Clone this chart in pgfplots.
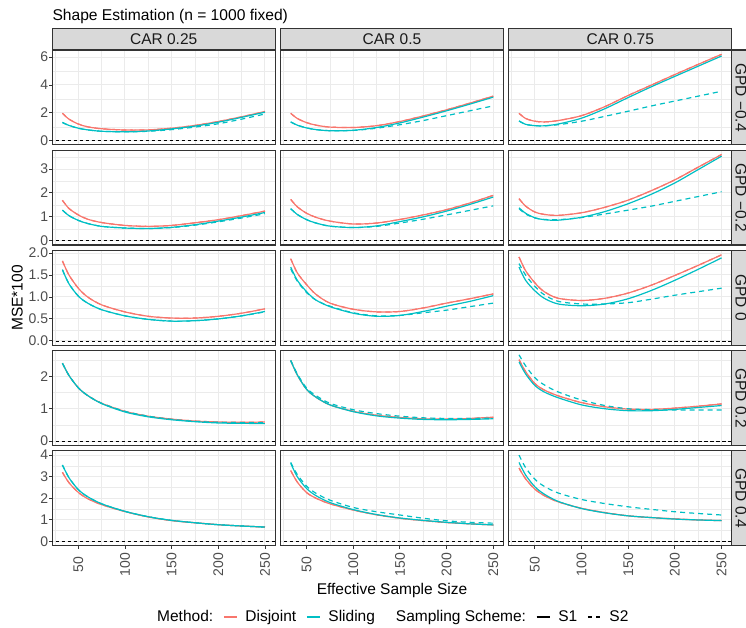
\documentclass[border=0pt]{standalone}
\usepackage{pgfplots}
\pgfplotsset{compat=1.18}
\usepackage{pgfplotstable}
\usepackage{fontspec}
\setmainfont{Liberation Sans}
\definecolor{cD}{HTML}{F8766D}
\definecolor{cS}{HTML}{00BFC4}
\definecolor{gA}{HTML}{333333}
\definecolor{gB}{HTML}{4D4D4D}
\definecolor{gC}{HTML}{D9D9D9}
\definecolor{gD}{HTML}{EBEBEB}
\definecolor{gE}{HTML}{1A1A1A}
\newcommand\fs[1]{\fontsize{#1}{#1}\selectfont}

% columns: x, Disjoint (S1 = S2), Sliding S1, Sliding S2
\pgfplotstableread{
x d s1 s2
33 1.97 1.31 1.31
40 1.55 1.10 1.10
50 1.20 0.90 0.90
60 1.00 0.78 0.78
75 0.86 0.68 0.68
100 0.77 0.64 0.64
125 0.78 0.70 0.68
150 0.90 0.85 0.80
175 1.10 1.05 0.98
200 1.38 1.33 1.22
225 1.72 1.68 1.55
250 2.10 2.05 1.92
}\tAa
\pgfplotstableread{
x d s1 s2
33 1.97 1.35 1.35
40 1.60 1.12 1.12
50 1.30 0.92 0.92
60 1.12 0.80 0.80
75 0.98 0.72 0.72
100 0.95 0.75 0.74
125 1.08 0.95 0.90
150 1.38 1.28 1.15
175 1.78 1.70 1.45
200 2.22 2.15 1.80
225 2.70 2.63 2.15
250 3.20 3.13 2.50
}\tAb
\pgfplotstableread{
x d s1 s2
33 1.97 1.42 1.42
40 1.60 1.18 1.18
50 1.40 1.08 1.08
60 1.35 1.07 1.07
75 1.45 1.20 1.15
100 1.80 1.62 1.40
125 2.45 2.30 1.75
150 3.25 3.10 2.12
175 4.00 3.88 2.50
200 4.75 4.62 2.85
225 5.48 5.35 3.20
250 6.20 6.08 3.55
}\tAc
\pgfplotstableread{
x d s1 s2
33 1.69 1.28 1.28
40 1.35 1.05 1.05
50 1.08 0.85 0.85
60 0.90 0.72 0.72
75 0.76 0.60 0.60
100 0.64 0.53 0.53
125 0.60 0.51 0.51
150 0.64 0.56 0.55
175 0.75 0.67 0.65
200 0.88 0.82 0.79
225 1.05 0.99 0.95
250 1.24 1.18 1.13
}\tBa
\pgfplotstableread{
x d s1 s2
33 1.73 1.34 1.34
40 1.42 1.10 1.10
50 1.15 0.88 0.88
60 0.98 0.74 0.74
75 0.82 0.61 0.61
100 0.70 0.55 0.55
125 0.74 0.62 0.60
150 0.89 0.80 0.74
175 1.08 1.00 0.90
200 1.30 1.24 1.08
225 1.58 1.52 1.27
250 1.90 1.83 1.46
}\tBb
\pgfplotstableread{
x d s1 s2
33 1.76 1.38 1.34
40 1.45 1.15 1.12
50 1.20 0.96 0.95
60 1.10 0.88 0.89
75 1.06 0.86 0.88
100 1.17 0.98 0.97
125 1.40 1.22 1.12
150 1.70 1.55 1.28
175 2.10 1.95 1.45
200 2.55 2.42 1.65
225 3.08 2.98 1.85
250 3.61 3.54 2.05
}\tBc
\pgfplotstableread{
x d s1 s2
33 1.82 1.62 1.62
40 1.50 1.30 1.30
50 1.20 1.02 1.02
60 1.00 0.86 0.86
75 0.82 0.71 0.71
100 0.66 0.57 0.57
125 0.56 0.49 0.49
150 0.52 0.45 0.45
175 0.52 0.46 0.46
200 0.56 0.50 0.50
225 0.63 0.57 0.57
250 0.73 0.67 0.66
}\tCa
\pgfplotstableread{
x d s1 s2
33 1.87 1.68 1.64
40 1.55 1.38 1.36
50 1.28 1.12 1.10
60 1.06 0.93 0.93
75 0.86 0.78 0.79
100 0.72 0.63 0.64
125 0.66 0.56 0.57
150 0.67 0.58 0.58
175 0.75 0.67 0.64
200 0.86 0.79 0.70
225 0.96 0.90 0.78
250 1.07 1.03 0.86
}\tCb
\pgfplotstableread{
x d s1 s2
33 1.91 1.68 1.76
40 1.60 1.38 1.50
50 1.32 1.14 1.24
60 1.12 0.97 1.05
75 0.97 0.84 0.90
100 0.92 0.80 0.84
125 0.97 0.84 0.84
150 1.09 0.96 0.87
175 1.27 1.15 0.95
200 1.49 1.38 1.04
225 1.72 1.63 1.12
250 1.96 1.89 1.20
}\tCc
\pgfplotstableread{
x d s1 s2
33 2.41 2.41 2.41
40 2.03 2.03 2.03
50 1.65 1.65 1.65
60 1.41 1.41 1.41
75 1.17 1.16 1.17
100 0.92 0.90 0.92
125 0.77 0.75 0.77
150 0.68 0.66 0.67
175 0.62 0.60 0.61
200 0.59 0.56 0.58
225 0.58 0.55 0.57
250 0.59 0.54 0.57
}\tDa
\pgfplotstableread{
x d s1 s2
33 2.49 2.49 2.50
40 2.05 2.05 2.08
50 1.60 1.60 1.64
60 1.36 1.36 1.41
75 1.12 1.12 1.17
100 0.92 0.91 0.97
125 0.80 0.78 0.85
150 0.73 0.71 0.77
175 0.69 0.67 0.72
200 0.68 0.66 0.70
225 0.70 0.67 0.70
250 0.74 0.69 0.71
}\tDb
\pgfplotstableread{
x d s1 s2
33 2.52 2.45 2.67
40 2.15 2.08 2.33
50 1.78 1.72 1.96
60 1.58 1.52 1.74
75 1.40 1.34 1.52
100 1.19 1.12 1.27
125 1.06 1.00 1.10
150 0.99 0.94 1.00
175 0.98 0.94 0.97
200 1.02 0.98 0.96
225 1.08 1.04 0.96
250 1.15 1.10 0.96
}\tDc
\pgfplotstableread{
x d s1 s2
33 3.20 3.54 3.54
40 2.72 2.95 2.95
50 2.27 2.40 2.40
60 1.98 2.07 2.07
75 1.70 1.74 1.74
100 1.38 1.39 1.39
125 1.13 1.14 1.14
150 0.96 0.97 0.97
175 0.86 0.86 0.86
200 0.77 0.77 0.77
225 0.71 0.71 0.71
250 0.66 0.66 0.66
}\tEa
\pgfplotstableread{
x d s1 s2
33 3.28 3.62 3.66
40 2.75 3.00 3.10
50 2.26 2.45 2.56
60 2.00 2.12 2.23
75 1.74 1.80 1.91
100 1.45 1.47 1.57
125 1.23 1.24 1.37
150 1.07 1.08 1.22
175 0.96 0.97 1.07
200 0.87 0.88 0.95
225 0.81 0.81 0.88
250 0.76 0.76 0.84
}\tEb
\pgfplotstableread{
x d s1 s2
33 3.40 3.66 4.00
40 2.90 3.08 3.42
50 2.42 2.53 2.88
60 2.12 2.19 2.55
75 1.83 1.85 2.24
100 1.53 1.52 1.94
125 1.33 1.32 1.75
150 1.18 1.18 1.60
175 1.10 1.10 1.48
200 1.04 1.03 1.37
225 0.99 0.99 1.29
250 0.96 0.96 1.22
}\tEc

\pgfplotsset{
  panel/.style={scale only axis, width=222.8pt, height=94.8pt, anchor=south west,
    xmin=22.15, xmax=260.85,
    xtick={50,100,150,200,250}, minor xtick={25,75,125,175,225},
    grid=both, major grid style={gD, line width=1pt}, minor grid style={gD, line width=0.5pt},
    axis line style={gA, line width=1.1pt},
    tick align=outside, major tick length=3pt, minor tick length=0pt,
    every tick/.style={gA, line width=0.9pt},
    xtick pos=bottom, ytick pos=left,
    tick label style={font=\fs{14}, text=gB},
    yticklabel style={inner sep=0pt, xshift=-1pt},
    xticklabels={}, yticklabels={},
  },
  rA/.style={ymin=-0.29, ymax=6.51, ytick={0,2,4,6}, minor ytick={1,3,5}},
  rB/.style={ymin=-0.18, ymax=3.79, ytick={0,1,2,3}, minor ytick={0.5,1.5,2.5,3.5}},
  rC/.style={ymin=-0.098, ymax=2.06, ytick={0,0.5,1,1.5,2}, minor ytick={0.25,0.75,1.25,1.75}},
  rD/.style={ymin=-0.134, ymax=2.8, ytick={0,1,2}, minor ytick={0.5,1.5,2.5}},
  rE/.style={ymin=-0.2, ymax=4.2, ytick={0,1,2,3,4}, minor ytick={0.5,1.5,2.5,3.5}},
  nox/.style={xtick style={draw=none}},
  noy/.style={ytick style={draw=none}},
  botx/.style={xticklabels={50,100,150,200,250}, xticklabel shift=16pt,
    xticklabel style={rotate=90, anchor=center, inner sep=0pt}},
}
\newcommand\curves[1]{%
  \addplot[forget plot, black, line width=0.6pt, dash pattern=on 3.5pt off 2.5pt] coordinates {(0,0) (300,0)};
  \addplot[forget plot, cD, line width=1.2pt, smooth] table[x=x,y=d]{#1};
  \addplot[forget plot, cD, line width=1.2pt, smooth, dash pattern=on 5pt off 4pt] table[x=x,y=d]{#1};
  \addplot[forget plot, cS, line width=1.2pt, smooth] table[x=x,y=s1]{#1};
  \addplot[forget plot, cS, line width=1.2pt, smooth, dash pattern=on 5pt off 4pt] table[x=x,y=s2]{#1};
}

\begin{document}
\begin{tikzpicture}[x=1pt,y=1pt]
\useasboundingbox (0,0) rectangle (746,628);
% row A
\begin{axis}[panel, rA, nox, yticklabels={0,2,4,6}, at={(52.3pt,483.2pt)}]\curves{\tAa}\end{axis}
\begin{axis}[panel, rA, nox, noy, at={(280.6pt,483.2pt)}]\curves{\tAb}\end{axis}
\begin{axis}[panel, rA, nox, noy, at={(508.9pt,483.2pt)}]\curves{\tAc}\end{axis}
% row B
\begin{axis}[panel, rB, nox, yticklabels={0,1,2,3}, at={(52.3pt,383.0pt)}]\curves{\tBa}\end{axis}
\begin{axis}[panel, rB, nox, noy, at={(280.6pt,383.0pt)}]\curves{\tBb}\end{axis}
\begin{axis}[panel, rB, nox, noy, at={(508.9pt,383.0pt)}]\curves{\tBc}\end{axis}
% row C
\begin{axis}[panel, rC, nox, yticklabels={0.0,0.5,1.0,1.5,2.0}, at={(52.3pt,282.8pt)}]\curves{\tCa}\end{axis}
\begin{axis}[panel, rC, nox, noy, at={(280.6pt,282.8pt)}]\curves{\tCb}\end{axis}
\begin{axis}[panel, rC, nox, noy, at={(508.9pt,282.8pt)}]\curves{\tCc}\end{axis}
% row D
\begin{axis}[panel, rD, nox, yticklabels={0,1,2}, at={(52.3pt,182.6pt)}]\curves{\tDa}\end{axis}
\begin{axis}[panel, rD, nox, noy, at={(280.6pt,182.6pt)}]\curves{\tDb}\end{axis}
\begin{axis}[panel, rD, nox, noy, at={(508.9pt,182.6pt)}]\curves{\tDc}\end{axis}
% row E
\begin{axis}[panel, rE, botx, yticklabels={0,1,2,3,4}, at={(52.3pt,82.4pt)}]\curves{\tEa}\end{axis}
\begin{axis}[panel, rE, botx, noy, at={(280.6pt,82.4pt)},
  legend style={at={(0.4856,-0.753)}, anchor=center, draw=none, fill=none,
    legend columns=6, font=\fs{15.5}, nodes={inner sep=0pt},
    /tikz/every odd column/.append style={column sep=8pt},
    /tikz/every even column/.append style={column sep=10pt}},
  legend image code/.code={\draw[#1] (0pt,0pt) -- (13pt,0pt);}]
  \curves{\tEb}
  \addlegendimage{empty legend}
  \addlegendentry{Method:}
  \addlegendimage{cD, line width=1.2pt}
  \addlegendentry{Disjoint}
  \addlegendimage{cS, line width=1.2pt}
  \addlegendentry{Sliding}
  \addlegendimage{empty legend}
  \addlegendentry{\hspace{3pt}Sampling Scheme:}
  \addlegendimage{black, line width=1.2pt}
  \addlegendentry{S1}
  \addlegendimage{black, line width=1.2pt, dash pattern=on 4pt off 4.5pt}
  \addlegendentry{S2}
\end{axis}
\begin{axis}[panel, rE, botx, noy, at={(508.9pt,82.4pt)}]\curves{\tEc}\end{axis}

% strips
\foreach \xl/\lab in {52.3/CAR 0.25, 280.6/CAR 0.5, 508.9/CAR 0.75}{
  \draw[fill=gC, draw=gA, line width=1.1pt] (\xl,578) rectangle ++(222.8,21.7);
  \node[anchor=base, font=\fs{15.5}, text=gE, inner sep=0pt] at (\xl+111.4,583) {\lab};
}
\foreach \yb/\lab in {483.2/GPD −0.4, 383.0/GPD −0.2, 282.8/GPD 0, 182.6/GPD 0.2, 82.4/GPD 0.4}{
  \draw[fill=gC, draw=gA, line width=1.1pt] (731.7,\yb) rectangle ++(30,94.8);
  \node[anchor=base, rotate=-90, font=\fs{15.5}, text=gE, inner sep=0pt] at (735.5,\yb+47.4) {\lab};
}
\node[anchor=base west, font=\fs{15.6}, inner sep=0pt] at (52.3,607.3) {Shape Estimation (n = 1000 fixed)};
\node[anchor=base, rotate=90, font=\fs{15.5}, inner sep=0pt] at (22.5,330) {MSE*100};
\node[anchor=base, font=\fs{15.5}, inner sep=0pt] at (392,33.7) {Effective Sample Size};
\end{tikzpicture}
\end{document}
